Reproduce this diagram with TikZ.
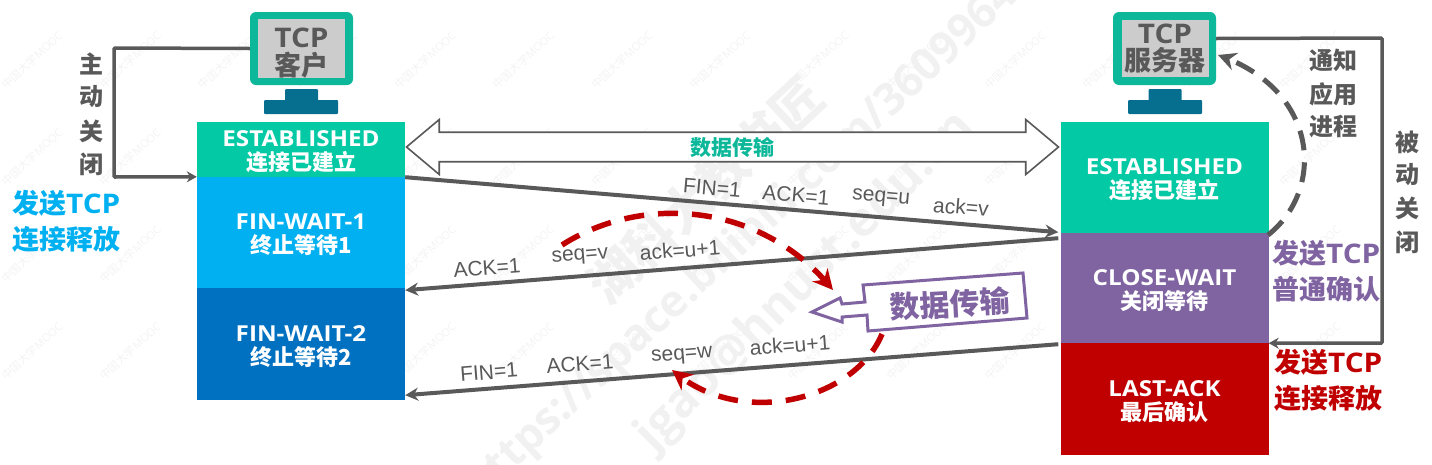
\documentclass[tikz,border=0pt]{standalone}
\usepackage{fontspec}
\setmainfont[FakeStretch=1.1]{Open Sans}
\newfontfamily\cjk{Noto Sans CJK SC}
\newfontfamily\arial{Liberation Sans}
\newfontfamily\wfont{Open Sans}
\usetikzlibrary{arrows.meta,shapes.arrows,calc,bending}
\newcommand\fs[1]{\fontsize{#1}{#1}\selectfont}
\newcommand\stl[2]{\rule{0pt}{21pt}#1\\{\cjk #2}}
\definecolor{gy}{HTML}{595959}
\definecolor{tl}{HTML}{04C9A5}
\definecolor{mon}{HTML}{0DB89A}
\definecolor{stn}{HTML}{066F90}
\definecolor{bl}{HTML}{00B0F0}
\definecolor{bd}{HTML}{0070C0}
\definecolor{pu}{HTML}{8064A2}
\definecolor{rd}{HTML}{C00000}
\definecolor{wm}{HTML}{F1F1F1}
\definecolor{wms}{HTML}{F3F3F3}
\tikzset{
  statebox/.style={minimum width=208pt,inner sep=0pt,text=white,align=center,font=\bfseries\fontsize{22}{24}\selectfont},
  monframe/.style={fill=mon,rounded corners=6pt,minimum width=103pt,minimum height=73pt,inner sep=0pt},
  monscreen/.style={fill=black!20,minimum width=87pt,minimum height=57pt,inner sep=0pt,text=gy,align=center,font=\bfseries\fontsize{27}{27}\selectfont},
  monpart/.style={fill=stn,rounded corners=1pt,inner sep=0pt},
  conn/.style={draw=gy,line width=4pt,-{Stealth[length=13pt,width=13pt]}},
  elbow/.style={draw=gy,line width=3.5pt,-{Stealth[length=10pt,width=11pt]}},
  msg/.style={text=gy,inner sep=0pt,font=\arial\fs{21}},
  vlabel/.style={text=gy,inner sep=0pt,align=center,font=\cjk\bfseries\fs{24}},
  redcurve/.style={draw=rd,line width=5.5pt,dash pattern=on 20pt off 14pt,-{Stealth[length=20pt,width=20pt,flex=1]}},
  graycurve/.style={draw=gy,line width=5pt,dash pattern=on 20pt off 12pt,-{Stealth[length=18pt,width=18pt,flex=1]}},
  sidelabel/.style={inner sep=0pt,align=left,anchor=west,font=\bfseries\fontsize{27}{36}\selectfont},
  wmark/.style={text=wm,inner sep=0pt,rotate=43,font=\wfont\bfseries\fs{44}},
  wtiny/.style={text=wms,inner sep=0pt,rotate=43,font=\wfont\fs{11}}
}
\begin{document}
\begin{tikzpicture}[x=1pt,y=-1pt]
\useasboundingbox (0,0) rectangle (1432,464);
\clip (0,0) rectangle (1432,464);
% faint small watermark
\foreach \i in {0,...,13}{\foreach \j in {0,...,3}{
  \node[wtiny] at ({32+98.3*\i},{60+97*\j}) {{\cjk 中国大学}MOOC};
}}
% large watermark
\node[wmark] at (760,225) {https://space.bilibili.com/360996402};
\node[wmark,rotate=2,font=\wfont\bfseries\fs{48}] at (806,282) {jgao@hnust.edu.cn};
\node[wmark,font=\cjk\bfseries\fs{50}] at (705,190) {湖科大教书匠};
% monitors
\node[monpart,minimum width=33pt,minimum height=12pt] (cneck) at (301.5,95) {};
\node[monpart,minimum width=74pt,minimum height=14pt] (cbase) at (301,107) {};
\node[monframe] (cmon) at (301.5,48.5) {};
\node[monscreen] (cscr) at (301.5,48.5) {\rule{0pt}{28pt}TCP\\[1pt]{\cjk 客户}};
\node[monpart,minimum width=33pt,minimum height=12pt] (sneck) at (1165,95) {};
\node[monpart,minimum width=74pt,minimum height=14pt] (sbase) at (1165,107) {};
\node[monframe] (smon) at (1164.5,48.5) {};
\node[monscreen] (sscr) at (1165,48.5) {TCP\\{\cjk 服务器}};
% state boxes
\node[statebox,fill=tl,minimum height=55pt] (cest) at (301,149.5) {\stl{ESTABLISHED}{连接已建立}};
\node[statebox,fill=bl,minimum height=111pt] (fina) at (301,232.5) {\stl{FIN-WAIT-1}{终止等待1}};
\node[statebox,fill=bd,minimum height=112pt] (finb) at (301,344) {\stl{FIN-WAIT-2}{终止等待2}};
\node[statebox,fill=tl,minimum height=111pt] (sest) at (1164.5,177.5) {\stl{ESTABLISHED}{连接已建立}};
\node[statebox,fill=pu,minimum height=110pt] (clw) at (1164.5,288) {\stl{CLOSE-WAIT}{关闭等待}};
\node[statebox,fill=rd,minimum height=112pt] (lack) at (1164.5,399) {\stl{LAST-ACK}{最后确认}};
% data transfer double arrow
\node[double arrow,draw=gy,line width=1.6pt,fill=white,minimum width=55pt,minimum height=652pt,
  double arrow head extend=9.5pt,double arrow tip angle=80,inner sep=0pt,text=mon,
  font=\cjk\bfseries\fs{21}] (dt) at (732.5,147) {数据传输};
% messages
\draw[conn] (cest.south east) -- ([shift={(-2,-1)}]sest.south west);
\draw[conn] ([shift={(-2,5)}]sest.south west) -- ([shift={(0,2)}]fina.south east);
\draw[conn] ([shift={(-2,1)}]clw.south west) -- ([shift={(0,-5)}]finb.south east);
\node[msg,rotate=-5] (m1) at (712,188) {FIN=1};
\node[msg,rotate=-5] (m2) at (796,195) {ACK=1};
\node[msg,rotate=-5] (m3) at (881,199) {seq=u};
\node[msg,rotate=-5] (m4) at (961,207) {ack=v};
\node[msg,rotate=4.5] (m5) at (487,268) {ACK=1};
\node[msg,rotate=4.5] (m6) at (580,257) {seq=v};
\node[msg,rotate=4.5] (m7) at (680,250) {ack=u+1};
\node[msg,rotate=4.5] (m8) at (489,372) {FIN=1};
\node[msg,rotate=4.5] (m9) at (580,364) {ACK=1};
\node[msg,rotate=4.5] (m10) at (682,356) {seq=w};
\node[msg,rotate=4.5] (m11) at (790,345) {ack=u+1};
% elbows
\draw[elbow,rounded corners=1pt] (cmon.west) -- (114,48) -- (114,177) -- (fina.north west);
\draw[elbow,rounded corners=1pt] ([yshift=10pt]smon.east) -- (1382,38) -- (1382,343) -- (clw.south east);
\node[vlabel] (la) at (91,64) {主}; \node[vlabel] (lb) at (91,97) {动};
\node[vlabel] (lc) at (91,131) {关}; \node[vlabel] (ld) at (91,164) {闭};
\node[vlabel] (le) at (1407,142) {被}; \node[vlabel] (lf) at (1407,175) {动};
\node[vlabel] (lg) at (1407,208) {关}; \node[vlabel] (lh) at (1407,242) {闭};
\node[vlabel] (li) at (1333,60) {通知}; \node[vlabel] (lj) at (1333,94) {应用}; \node[vlabel] (lk) at (1333,127) {进程};
% side labels
\node[sidelabel,text=bl] (sa) at (12,221) {{\cjk 发送}TCP\\{\cjk 连接释放}};
\node[sidelabel,text=pu] (sb) at (1272,271) {{\cjk 发送}TCP\\{\cjk 普通确认}};
\node[sidelabel,text=rd] (sc) at (1274,380) {{\cjk 发送}TCP\\{\cjk 连接释放}};
% curves
\coordinate (ra) at (562,245); \coordinate (rb) at (833,290);
\coordinate (rc) at (882,334); \coordinate (rdd) at (672,370);
\draw[redcurve] (ra) .. controls (640,195) and (760,200) .. (rb);
\draw[redcurve] (rc) .. controls (855,400) and (740,430) .. (rdd);
\coordinate (ga) at (1268,235); \coordinate (gb) at (1218,55);
\draw[graycurve] (ga) .. controls (1325,190) and (1320,90) .. (gb);
% callout
\draw[pu,line width=3pt,fill=white,line join=miter] (863,285) -- (1023,273) -- (1027,318) -- (868,331) -- (867,315) -- (842,317) -- (842,322) -- (812,312) -- (840,298) -- (842,304) -- (865,302) -- cycle;
\node[rotate=3,text=pu,inner sep=0pt,font=\cjk\bfseries\fs{30}] (cl) at (950,304) {数据传输};
\end{tikzpicture}
\end{document}
